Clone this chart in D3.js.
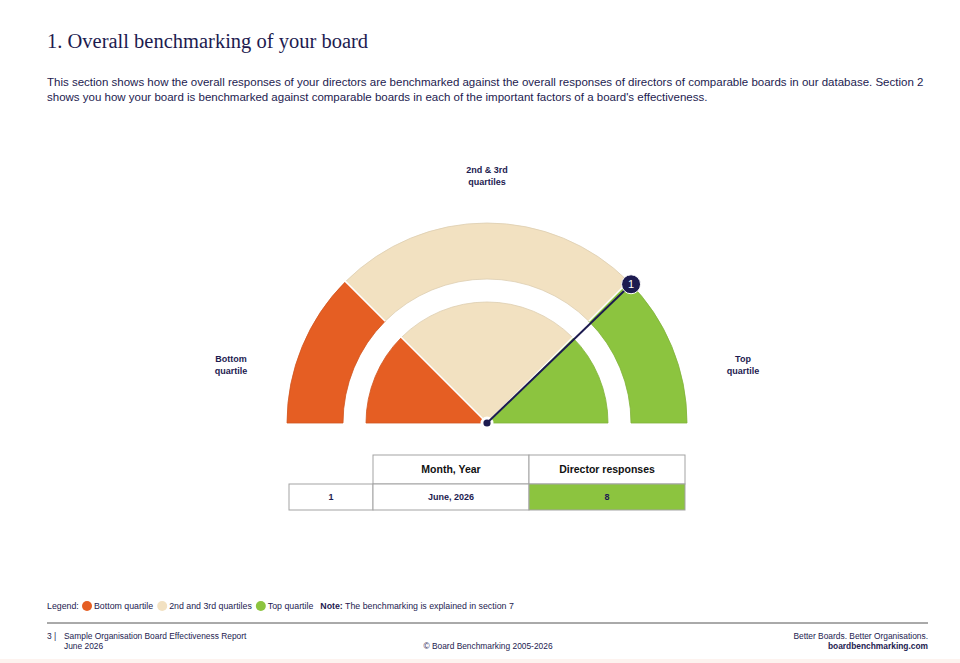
<!DOCTYPE html>
<html>
<head>
<meta charset="utf-8">
<script src="https://cdn.jsdelivr.net/npm/d3@7"></script>
<style>
  html, body { margin: 0; padding: 0; background: #fff; }
  svg { display: block; }
</style>
</head>
<body>
<div id="chart"></div>
<script>
// quartile bands, left to right (percent of the gauge)
const quartiles = ["Bottom quartile", "2nd and 3rd quartiles", "Top quartile"];
const quartileShares = [25, 50, 25];
const quartileColors = ["#e55e23", "#f2e1c1", "#8cc43f"];
const gaugeLabels = [["Bottom", "quartile"], ["2nd & 3rd", "quartiles"], ["Top", "quartile"]];

// pointer(s): percentile position of each survey
const pointerIds = ["1"];
const pointerValues = [75.6];

// table
const tableHeaders = ["", "Month, Year", "Director responses"];
const surveyIds = ["1"];
const surveyDates = ["June, 2026"];
const directorResponses = [8];

const navy = "#1d1b50";
const W = 960, H = 663;

const svg = d3.select("#chart").append("svg")
    .attr("width", W)
    .attr("height", H)
    .style("font-family", "'Liberation Sans', Arial, sans-serif");

// heading
svg.append("text")
    .attr("x", 47).attr("y", 48)
    .attr("fill", navy)
    .style("font-family", "'Liberation Serif', 'Times New Roman', serif")
    .style("font-size", "20.5px")
    .text("1. Overall benchmarking of your board");

const intro = [
    "This section shows how the overall responses of your directors are benchmarked against the overall responses of directors of comparable boards in our database. Section 2",
    "shows you how your board is benchmarked against comparable boards in each of the important factors of a board's effectiveness."
];
svg.append("g").selectAll("text").data(intro).join("text")
    .attr("x", 47)
    .attr("y", (d, i) => 86 + i * 15)
    .attr("fill", navy)
    .style("font-size", "11.5px")
    .text(d => d);

// gauge
const cx = 487, cy = 423;
const angle = d3.scaleLinear().domain([0, 100]).range([-Math.PI / 2, Math.PI / 2]);

const bounds = d3.cumsum([0, ...quartileShares]);
const bands = quartileShares.map((v, i) => ({
    name: quartiles[i],
    color: quartileColors[i],
    start: bounds[i],
    end: bounds[i + 1]
}));

const gauge = svg.append("g").attr("transform", `translate(${cx},${cy})`);

const rings = [
    { inner: 144, outer: 200 },
    { inner: 0, outer: 121 }
];

rings.forEach(r => {
    const arc = d3.arc()
        .innerRadius(r.inner)
        .outerRadius(r.outer)
        .startAngle(d => angle(d.start))
        .endAngle(d => angle(d.end));
    gauge.append("g").selectAll("path").data(bands).join("path")
        .attr("d", arc)
        .attr("fill", d => d.color)
        .attr("stroke", d => d3.color(d.color).darker(0.25))
        .attr("stroke-width", 0.8);
    // white separators between bands
    gauge.append("g").selectAll("line").data(bounds.slice(1, -1)).join("line")
        .attr("x1", d => r.inner * Math.sin(angle(d)))
        .attr("y1", d => -r.inner * Math.cos(angle(d)))
        .attr("x2", d => (r.outer + 1) * Math.sin(angle(d)))
        .attr("y2", d => -(r.outer + 1) * Math.cos(angle(d)))
        .attr("stroke", "#fff")
        .attr("stroke-width", 1.5);
});

// quartile labels around the gauge
const labelPos = [
    { x: 231 - cx, y: 362 - cy },
    { x: 0, y: 173 - cy },
    { x: 743 - cx, y: 362 - cy }
];
gaugeLabels.forEach((lines, i) => {
    gauge.append("g").selectAll("text").data(lines).join("text")
        .attr("x", labelPos[i].x)
        .attr("y", (d, j) => labelPos[i].y + j * 12)
        .attr("text-anchor", "middle")
        .attr("fill", navy)
        .style("font-size", "9px")
        .style("font-weight", "bold")
        .text(d => d);
});

// pointer
const pointerR = 200;
const pointers = pointerValues.map((v, i) => ({
    id: pointerIds[i],
    x: pointerR * Math.sin(angle(v)),
    y: -pointerR * Math.cos(angle(v))
}));

gauge.append("circle").attr("r", 6.5).attr("fill", "#fff");

gauge.selectAll("line.pointer").data(pointers).join("line")
    .attr("class", "pointer")
    .attr("x1", 0).attr("y1", 0)
    .attr("x2", d => d.x).attr("y2", d => d.y)
    .attr("stroke", navy)
    .attr("stroke-width", 2);

gauge.append("circle").attr("r", 3.6).attr("fill", navy);

const marker = gauge.selectAll("g.marker").data(pointers).join("g")
    .attr("class", "marker")
    .attr("transform", d => `translate(${d.x},${d.y})`);
marker.append("circle").attr("r", 9.5).attr("fill", navy).attr("stroke", "#fff").attr("stroke-width", 1);
marker.append("text")
    .attr("text-anchor", "middle")
    .attr("dy", "0.36em")
    .attr("fill", "#fff")
    .style("font-size", "11px")
    .text(d => d.id);

// table
const colX = [289, 373, 529, 685];
const headTop = 455, headH = 29, rowH = 26;
const table = svg.append("g");
const border = "#a3a3a3";

tableHeaders.forEach((h, i) => {
    if (!h) return;
    table.append("rect")
        .attr("x", colX[i]).attr("y", headTop)
        .attr("width", colX[i + 1] - colX[i]).attr("height", headH)
        .attr("fill", "#fff").attr("stroke", border);
    table.append("text")
        .attr("x", (colX[i] + colX[i + 1]) / 2)
        .attr("y", headTop + headH / 2)
        .attr("dy", "0.35em")
        .attr("text-anchor", "middle")
        .attr("fill", "#111")
        .style("font-size", "10.5px")
        .style("font-weight", "bold")
        .text(h);
});

surveyIds.forEach((id, r) => {
    const y = headTop + headH + r * rowH;
    const pct = pointerValues[r];
    const band = bands.find(b => pct >= b.start && pct <= b.end) || bands[0];
    const cells = [id, surveyDates[r], directorResponses[r]];
    cells.forEach((c, i) => {
        table.append("rect")
            .attr("x", colX[i]).attr("y", y)
            .attr("width", colX[i + 1] - colX[i]).attr("height", rowH)
            .attr("fill", i === 2 ? band.color : "#fff")
            .attr("stroke", border);
        table.append("text")
            .attr("x", (colX[i] + colX[i + 1]) / 2)
            .attr("y", y + rowH / 2)
            .attr("dy", "0.35em")
            .attr("text-anchor", "middle")
            .attr("fill", navy)
            .style("font-size", "9px")
            .style("font-weight", "bold")
            .text(c);
    });
});

// legend
const legend = svg.append("g").attr("transform", "translate(47,606)");
legend.append("text").attr("x", 0).attr("y", 0).attr("dy", "0.35em")
    .attr("fill", navy).style("font-size", "8.8px").text("Legend:");
let lx = 35;
quartiles.forEach((q, i) => {
    legend.append("circle").attr("cx", lx + 5).attr("cy", 0).attr("r", 5).attr("fill", quartileColors[i]);
    const t = legend.append("text").attr("x", lx + 12).attr("y", 0).attr("dy", "0.35em")
        .attr("fill", navy).style("font-size", "8.8px").text(q);
    lx += 12 + t.node().getComputedTextLength() + 4;
});
const note = legend.append("text").attr("x", lx + 3).attr("y", 0).attr("dy", "0.35em")
    .attr("fill", navy).style("font-size", "8.8px");
note.append("tspan").style("font-weight", "bold").text("Note:");
note.append("tspan").text(" The benchmarking is explained in section 7");

// footer
svg.append("line")
    .attr("x1", 47).attr("x2", 928)
    .attr("y1", 623).attr("y2", 623)
    .attr("stroke", "#555").attr("stroke-width", 1);

const foot = svg.append("g").attr("fill", navy).style("font-size", "8.4px");
foot.append("text").attr("x", 47).attr("y", 639).text("3  |");
foot.append("text").attr("x", 64).attr("y", 639).text("Sample Organisation Board Effectiveness Report");
foot.append("text").attr("x", 64).attr("y", 649).text("June 2026");
foot.append("text").attr("x", 488).attr("y", 649).attr("text-anchor", "middle").text("© Board Benchmarking 2005-2026");
foot.append("text").attr("x", 928).attr("y", 639).attr("text-anchor", "end").text("Better Boards. Better Organisations.");
foot.append("text").attr("x", 928).attr("y", 649).attr("text-anchor", "end").style("font-weight", "bold").text("boardbenchmarking.com");

svg.append("rect").attr("x", 0).attr("y", 659).attr("width", W).attr("height", 4).attr("fill", "#fdf3ef");
</script>
</body>
</html>
